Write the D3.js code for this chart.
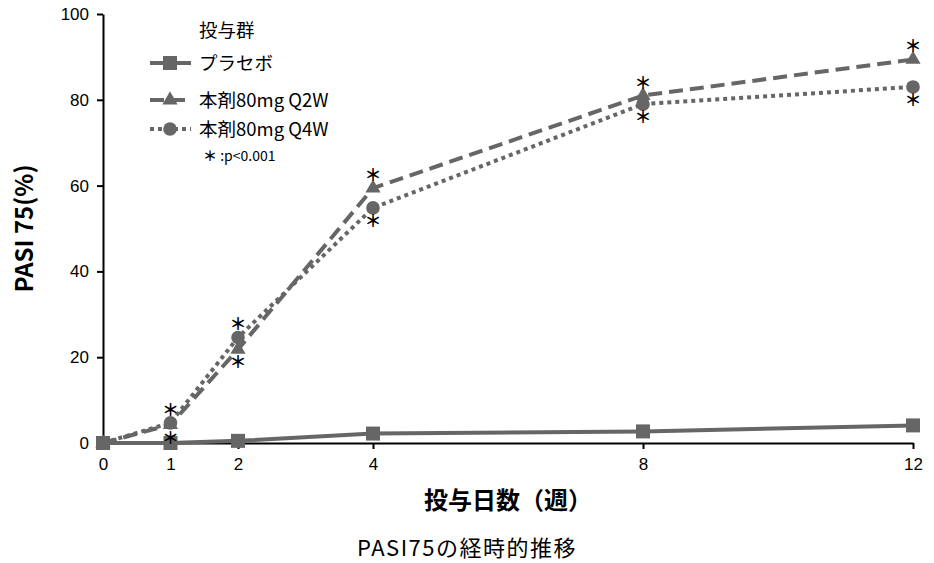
<!DOCTYPE html>
<html><head><meta charset="utf-8">
<script src="https://cdn.jsdelivr.net/npm/d3@7"></script>
<style>
html,body{margin:0;padding:0;background:#fff;}
text{font-family:"Liberation Sans","Noto Sans CJK JP",sans-serif;}
.jp{font-family:"Noto Sans CJK JP","Liberation Sans",sans-serif;}
</style></head>
<body>
<svg id="c" width="934" height="563"></svg>
<script>
const weeks = [0, 1, 2, 4, 8, 12];
const placebo = [0, 0, 0.5, 2.2, 2.7, 4.1];
const q2w = [0, 4.3, 21.8, 59.4, 81.0, 89.4];
const q4w = [0, 4.7, 24.6, 54.8, 79.0, 83.0];
const seriesNames = ["プラセボ", "本剤80mg Q2W", "本剤80mg Q4W"];
const yTicks = [0, 20, 40, 60, 80, 100];
const xTicks = [0, 1, 2, 4, 8, 12];
// significance marks: [series index, week, side]
const sigMarks = [
  [2, 1, "above"], [1, 1, "below"],
  [2, 2, "above"], [1, 2, "below"],
  [1, 4, "above"], [2, 4, "below"],
  [1, 8, "above"], [2, 8, "below"],
  [1, 12, "above"], [2, 12, "below"]
];

const svg = d3.select("#c");
const m = {l:103, r:913, t:14, b:443};
const x = d3.scaleLinear().domain([0,12]).range([m.l, m.r]);
const y = d3.scaleLinear().domain([0,100]).range([m.b, m.t]);
const col = "#666666";

// axes
const xa = svg.append("g").attr("transform",`translate(0,${m.b})`)
  .call(d3.axisBottom(x).tickValues(xTicks).tickSize(6).tickSizeOuter(0).tickPadding(9));
const ya = svg.append("g").attr("transform",`translate(${m.l},0)`)
  .call(d3.axisLeft(y).tickValues(yTicks).tickSize(6).tickSizeOuter(0).tickPadding(8));
[xa, ya].forEach(a=>{
  a.selectAll("path,line").attr("stroke","#000").attr("stroke-width",2);
  a.selectAll("text").attr("font-size",17).attr("fill","#000")
   .style("font-family","'Liberation Sans',sans-serif");
});

const data = [placebo, q2w, q4w];
const dashes = [null, "14,7", "4,4"];
const line = d3.line().x((d,i)=>x(weeks[i])).y(d=>y(d));

function drawMarker(g, type, cx, cy){
  if(type===0) g.append("rect").attr("x",cx-7).attr("y",cy-7).attr("width",14).attr("height",14).attr("fill",col);
  else if(type===1) g.append("path").attr("d",d3.symbol(d3.symbolTriangle,100)()).attr("transform",`translate(${cx},${cy})`).attr("fill",col);
  else g.append("circle").attr("cx",cx).attr("cy",cy).attr("r",6.8).attr("fill",col);
}

data.forEach((vals,si)=>{
  const g = svg.append("g");
  g.append("path").attr("d",line(vals)).attr("fill","none").attr("stroke",col)
    .attr("stroke-width",4).attr("stroke-dasharray",dashes[si]);
  vals.forEach((v,i)=>drawMarker(g, si, x(weeks[i]), y(v)));
});

// significance asterisks
sigMarks.forEach(([si,w,side])=>{
  const i = weeks.indexOf(w);
  const v = data[si][i];
  svg.append("text").attr("class","jp")
    .attr("x", x(w)).attr("y", y(v) + (side==="above" ? -7 : 19))
    .attr("text-anchor","middle").attr("font-size",17).attr("font-weight","bold")
    .attr("fill","#000").text("＊");
});

// legend
const lg = svg.append("g");
lg.append("text").attr("class","jp").attr("x",199).attr("y",37).attr("font-size",18.5).text("投与群");
const rowsY = [63, 100, 129];
rowsY.forEach((ry,si)=>{
  lg.append("line").attr("x1",150).attr("x2",191).attr("y1",ry).attr("y2",ry)
    .attr("stroke",col).attr("stroke-width",4).attr("stroke-dasharray",dashes[si]);
  drawMarker(lg, si, 170, ry);
  lg.append("text").attr("class","jp").attr("x",199).attr("y",ry+6.5).attr("font-size",18.5).text(seriesNames[si]);
});
const note = lg.append("text").attr("class","jp").attr("x",203).attr("y",161).attr("font-size",14);
note.append("tspan").attr("font-weight","bold").text("＊");
note.append("tspan").text(" :p<0.001");

// axis titles
svg.append("text").attr("class","jp").attr("transform",`translate(33,${(m.t+m.b)/2}) rotate(-90)`)
  .attr("text-anchor","middle").attr("font-size",24).attr("font-weight","bold").text("PASI 75(%)");
svg.append("text").attr("class","jp").attr("x",508).attr("y",509).attr("text-anchor","middle")
  .attr("font-size",24).attr("font-weight","bold").text("投与日数（週）");
svg.append("text").attr("class","jp").attr("x",467).attr("y",556).attr("text-anchor","middle")
  .attr("font-size",22).attr("letter-spacing",1.5).text("PASI75の経時的推移");
</script>
</body></html>
